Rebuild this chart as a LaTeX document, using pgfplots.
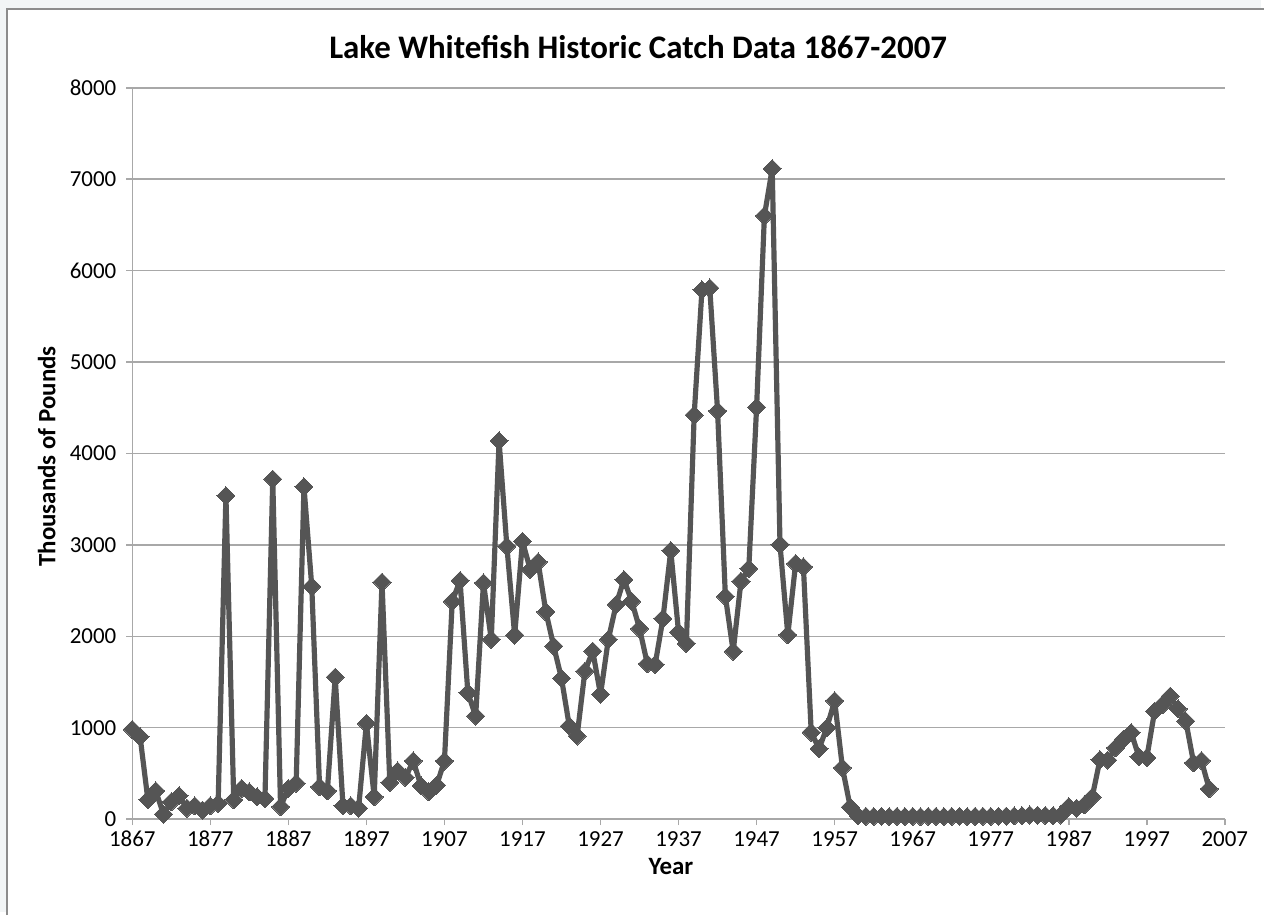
\documentclass[border=0pt]{standalone}
\usepackage{pgfplots}
\pgfplotsset{compat=1.18}
\usepackage{fontspec}
\setmainfont{Carlito}
\definecolor{slidebg}{HTML}{F2F5F6}
\definecolor{framegray}{HTML}{8C8C8C}
\definecolor{gridgray}{HTML}{A8A8A8}
\definecolor{linegray}{HTML}{555555}

\begin{document}
\begin{tikzpicture}
  % slide background and chart frame (1px = 0.5pt, origin top left)
  \fill[slidebg] (0,0) rectangle (632.5pt,-457.5pt);
  \fill[white] (3.5pt,-4.5pt) rectangle (634pt,-459pt);
  \draw[framegray, line width=1pt] (3.5pt,-459pt) -- (3.5pt,-4.5pt) -- (634pt,-4.5pt);
  \useasboundingbox (0,0) rectangle (632.5pt,-457.5pt);

  \begin{axis}[
    at={(66.35pt,-410.85pt)}, anchor=south west,
    scale only axis,
    width=548pt, height=366.8pt,
    xmin=1867, xmax=2007,
    ymin=0, ymax=8000,
    xtick={1867,1877,...,2007},
    ytick={0,1000,...,8000},
    axis x line*=bottom,
    axis y line*=left,
    axis line style={gridgray, line width=0.75pt, -},
    tick align=outside,
    major tick length=3pt,
    tick style={gridgray, line width=0.75pt},
    ymajorgrids=true,
    grid style={gridgray, line width=0.75pt},
    /pgf/number format/.cd, 1000 sep={}, assume math mode=true,
    /pgfplots/.cd,
    tick label style={font=\fontsize{11.5}{13}\selectfont, text=black},
    xticklabel style={yshift=0.5pt},
    yticklabel style={xshift=-1.5pt},
    title={Lake Whitefish Historic Catch Data 1867-2007},
    every axis title/.style={at={(axis description cs:0.463,1.056)}, anchor=center,
                 font=\fontsize{16.5}{19}\selectfont\bfseries},
    xlabel={Year},
    xlabel style={at={(axis description cs:0.493,-0.065)}, anchor=center,
                  font=\fontsize{12.5}{15}\selectfont\bfseries},
    ylabel={Thousands of Pounds},
    ylabel style={at={(axis description cs:-0.0782,0.496)}, anchor=center,
                  font=\fontsize{12.5}{15}\selectfont\bfseries},
    clip=false,
  ]
  \addplot[linegray, line width=2.6pt, line join=round,
           mark=square*, mark size=3.2pt,
           mark options={rotate=45, fill=linegray, draw=linegray, line width=0pt}]
  table[x=year, y=catch]{
  year catch
  1867 982
  1868 902
  1869 211
  1870 309
  1871 55
  1872 189
  1873 255
  1874 120
  1875 145
  1876 98
  1877 145
  1878 171
  1879 3538
  1880 211
  1881 335
  1882 298
  1883 244
  1884 225
  1885 3720
  1886 135
  1887 335
  1888 393
  1889 3636
  1890 2545
  1891 353
  1892 309
  1893 1553
  1894 145
  1895 145
  1896 120
  1897 1047
  1898 244
  1899 2593
  1900 400
  1901 527
  1902 455
  1903 636
  1904 364
  1905 298
  1906 371
  1907 636
  1908 2383
  1909 2610
  1910 1382
  1911 1127
  1912 2584
  1913 1965
  1914 4138
  1915 2984
  1916 2012
  1917 3039
  1918 2729
  1919 2813
  1920 2267
  1921 1892
  1922 1539
  1923 1018
  1924 909
  1925 1619
  1926 1837
  1927 1364
  1928 1965
  1929 2347
  1930 2620
  1931 2383
  1932 2085
  1933 1699
  1934 1692
  1935 2194
  1936 2937
  1937 2045
  1938 1920
  1939 4420
  1940 5790
  1941 5810
  1942 4465
  1943 2436
  1944 1835
  1945 2602
  1946 2740
  1947 4505
  1948 6600
  1949 7115
  1950 3004
  1951 2015
  1952 2795
  1953 2760
  1954 950
  1955 770
  1956 1000
  1957 1295
  1958 562
  1959 132
  1960 35
  1961 30
  1962 28
  1963 30
  1964 27
  1965 30
  1966 28
  1967 30
  1968 27
  1969 29
  1970 30
  1971 28
  1972 30
  1973 29
  1974 27
  1975 30
  1976 31
  1977 29
  1978 30
  1979 32
  1980 35
  1981 38
  1982 45
  1983 42
  1984 40
  1985 38
  1986 45
  1987 137
  1988 119
  1989 155
  1990 240
  1991 650
  1992 645
  1993 780
  1994 874
  1995 946
  1996 680
  1997 672
  1998 1180
  1999 1250
  2000 1345
  2001 1205
  2002 1072
  2003 615
  2004 640
  2005 330
  };
  \end{axis}
\end{tikzpicture}
\end{document}
